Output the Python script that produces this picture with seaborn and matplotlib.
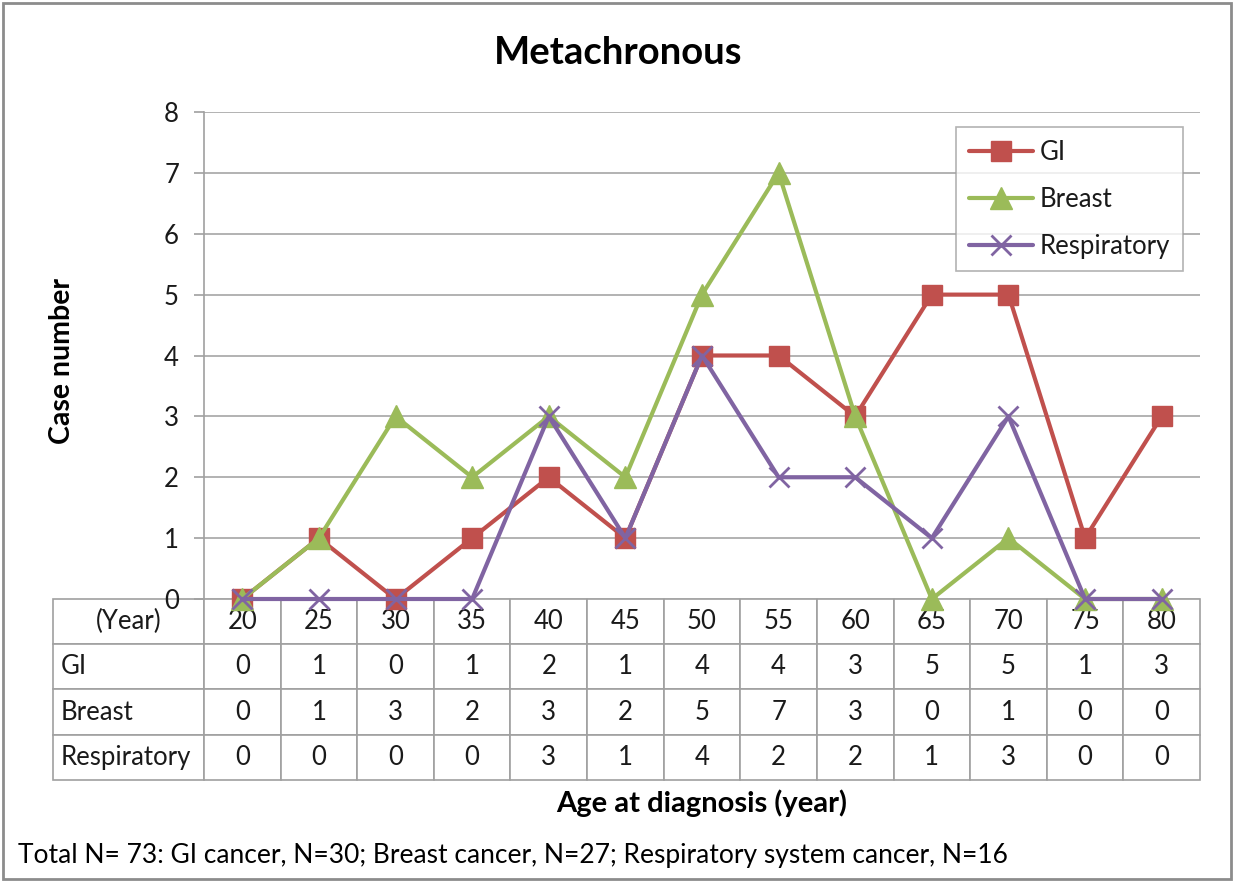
import matplotlib
matplotlib.use("Agg")
import matplotlib.pyplot as plt
import seaborn as sns
import pandas as pd
from matplotlib.patches import Rectangle

ages = [20, 25, 30, 35, 40, 45, 50, 55, 60, 65, 70, 75, 80]
gi = [0, 1, 0, 1, 2, 1, 4, 4, 3, 5, 5, 1, 3]
breast = [0, 1, 3, 2, 3, 2, 5, 7, 3, 0, 1, 0, 0]
respiratory = [0, 0, 0, 0, 3, 1, 4, 2, 2, 1, 3, 0, 0]
series_names = ["GI", "Breast", "Respiratory"]
title = "Metachronous"
ylabel = "Case number"
xlabel = "Age at diagnosis (year)"
footer = "Total N= 73: GI cancer, N=30; Breast cancer, N=27; Respiratory system cancer, N=16"

sns.set_theme(style="white")
plt.rcParams["font.family"] = ["Lato", "DejaVu Sans"]

W, H = 1234, 881
fig = plt.figure(figsize=(W / 100, H / 100), dpi=100)
fig.patch.set_facecolor("white")

# axes geometry (pixels)
L, R, T, B = 204, 1200, 112, 599
ax = fig.add_axes([L / W, 1 - B / H, (R - L) / W, (B - T) / H])

df = pd.DataFrame({"age": ages, "GI": gi, "Breast": breast, "Respiratory": respiratory})
styles = {
    "GI": dict(color="#C0504D", marker="s", markersize=15, markeredgewidth=1),
    "Breast": dict(color="#9BBB59", marker="^", markersize=16, markeredgewidth=1),
    "Respiratory": dict(color="#8064A2", marker="x", markersize=14, markeredgewidth=2),
}
for name in series_names:
    st = styles[name]
    sns.lineplot(data=df, x="age", y=name, ax=ax, label=name, linewidth=3,
                 color=st["color"], marker=st["marker"], markersize=st["markersize"],
                 markeredgewidth=st["markeredgewidth"], markeredgecolor=st["color"],
                 markerfacecolor=st["color"], legend=False, clip_on=False, zorder=5)

ax.set_xlim(ages[0] - 2.5, ages[-1] + 2.5)
ax.set_ylim(0, 8)
ax.set_yticks(range(0, 9))
ax.set_xticks([])
ax.set_xlabel("")
ax.set_ylabel("")
ax.grid(axis="y", color="#A6A6A6", linewidth=1.2)
ax.grid(axis="x", visible=False)
for side in ["top", "right", "bottom"]:
    ax.spines[side].set_visible(False)
ax.spines["left"].set_color("#A0A0A0")
ax.spines["left"].set_linewidth(1.2)
ax.tick_params(axis="y", which="major", left=True, length=7, width=1.2, color="#A0A0A0",
               labelsize=18.5, pad=11, labelcolor="#1a1a1a")

# data table
cell_text = [["(Year)"] + [str(a) for a in ages]]
for name, vals in zip(series_names, [gi, breast, respiratory]):
    cell_text.append([name] + [str(v) for v in vals])
axw = R - L
axh = B - T
tab_left = 53
tab_bottom = 780
col_w = [(L - tab_left)] + [(R - L) / 13] * 13
tbl = ax.table(cellText=cell_text, cellLoc="center", colWidths=col_w,
               bbox=[(tab_left - L) / axw, -(tab_bottom - B) / axh,
                     (R - tab_left) / axw, (tab_bottom - B) / axh])
tbl.auto_set_font_size(False)
tbl.set_fontsize(18.5)
for (r, c), cell in tbl.get_celld().items():
    cell.set_edgecolor("#A0A0A0")
    cell.set_linewidth(1.2)
    cell.get_text().set_color("#1a1a1a")
    if c == 0 and r > 0:
        cell.PAD = 0.05
        cell._loc = "left"
        cell.get_text().set_ha("left")

# legend
handles, labels = ax.get_legend_handles_labels()
leg = fig.legend(handles, labels, loc="upper left",
                 bbox_to_anchor=(956 / W, 1 - 127 / H), borderaxespad=0,
                 fontsize=18.5, frameon=True, fancybox=False, edgecolor="#A0A0A0",
                 handlelength=2.5, labelspacing=0.85, borderpad=0.5, handletextpad=0.25)
leg.get_frame().set_linewidth(1.2)
for t in leg.get_texts():
    t.set_color("#1a1a1a")

# titles and labels
fig.text(618 / W, 1 - 53 / H, title, ha="center", va="center", fontsize=27.5,
         fontweight="bold", color="black")
fig.text(62 / W, 1 - 361 / H, ylabel, ha="center", va="center", rotation=90,
         fontsize=20.5, fontweight="bold", color="black")
fig.text(702 / W, 1 - 803 / H, xlabel, ha="center", va="center", fontsize=21,
         fontweight="bold", color="black")
fig.text(18 / W, 1 - 855 / H, footer, ha="left", va="center", fontsize=19, color="black")

# outer border
fig.patches.append(Rectangle((3 / W, 2 / H), (W - 6) / W, (H - 5) / H,
                             transform=fig.transFigure, fill=False,
                             edgecolor="#8C8C8C", linewidth=2))

fig.savefig("out.png", dpi=100, facecolor="white")
